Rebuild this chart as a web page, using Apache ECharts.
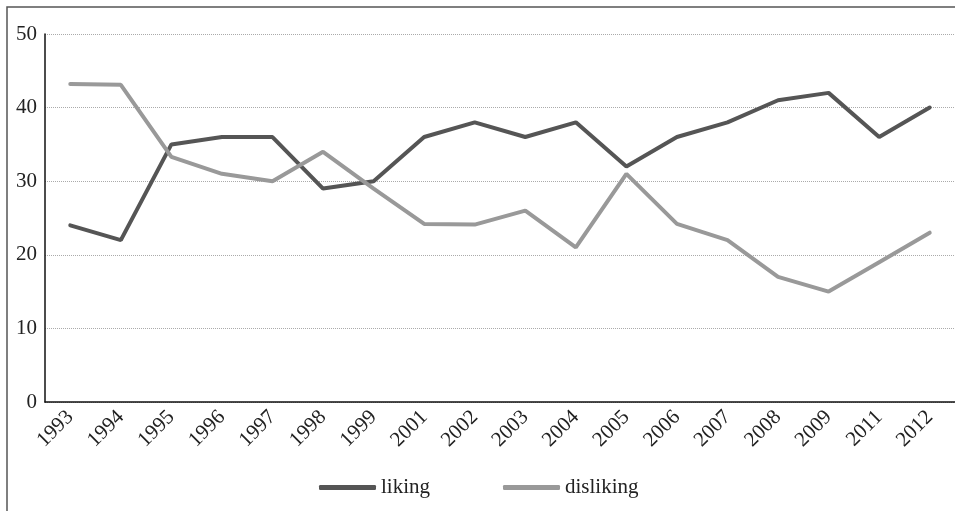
<!DOCTYPE html>
<html>
<head>
<meta charset="utf-8">
<script src="https://cdn.jsdelivr.net/npm/echarts@6/dist/echarts.min.js"></script>
<style>
  html, body { margin: 0; padding: 0; background: #fff; }
  #chart { width: 955px; height: 511px; }
</style>
</head>
<body>
<div id="chart"></div>
<script>
const years = ["1993", "1994", "1995", "1996", "1997", "1998", "1999", "2001", "2002",
    "2003", "2004", "2005", "2006", "2007", "2008", "2009", "2011", "2012"];
const liking = [24, 22, 35, 36, 36, 29, 30, 36, 38, 36, 38, 32, 36, 38, 41, 42, 36, 40];
const disliking = [43.2, 43.1, 33.3, 31, 30, 34, 29, 24.2, 24.1, 26, 21, 31, 24.2, 22, 17, 15, 19, 23];

const serif = "'Liberation Serif', 'DejaVu Serif', serif";

const chart = echarts.init(document.getElementById("chart"));
chart.setOption({
    animation: false,
    textStyle: { fontFamily: serif },
    graphic: [{
        type: "rect",
        shape: { x: 7, y: 7, width: 960, height: 520 },
        style: { fill: "none", stroke: "#555", lineWidth: 1.5 },
        z: -1,
    }],
    grid: { left: 45, right: -4, top: 34, bottom: 109 },
    legend: {
        bottom: 8,
        left: 314,
        itemGap: 73,
        itemWidth: 57,
        itemHeight: 5,
        icon: "roundRect",
        textStyle: { fontFamily: serif, fontSize: 21, color: "#222" },
        data: ["liking", "disliking"],
    },
    xAxis: {
        type: "category",
        data: years,
        boundaryGap: true,
        axisLine: { lineStyle: { color: "#111", width: 1.5 } },
        axisTick: { show: false },
        axisLabel: { rotate: 45, fontSize: 21, color: "#222", fontFamily: serif, margin: 12 },
    },
    yAxis: {
        type: "value",
        min: 0,
        max: 50,
        interval: 10,
        axisLine: { show: true, lineStyle: { color: "#111", width: 1.5 } },
        axisTick: { show: false },
        axisLabel: { fontSize: 21, color: "#222", fontFamily: serif, margin: 8 },
        splitLine: { lineStyle: { color: "#aaa", type: [1, 1], width: 1 } },
    },
    series: [
        {
            name: "liking",
            type: "line",
            data: liking,
            symbol: "none",
            lineStyle: { color: "#555555", width: 4, cap: "round" },
            itemStyle: { color: "#555555" },
        },
        {
            name: "disliking",
            type: "line",
            data: disliking,
            symbol: "none",
            lineStyle: { color: "#999999", width: 4, cap: "round" },
            itemStyle: { color: "#999999" },
        },
    ],
});
</script>
</body>
</html>
